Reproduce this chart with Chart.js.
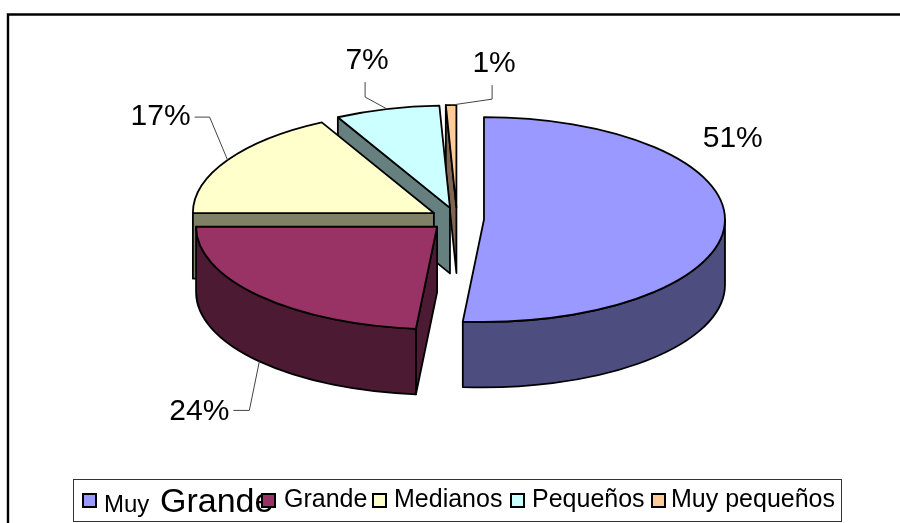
<!DOCTYPE html>
<html>
<head>
<meta charset="utf-8">
<style>
html, body { margin: 0; padding: 0; background: #fff; }
#wrap { width: 900px; height: 523px; overflow: hidden; }
</style>
<script src="https://cdn.jsdelivr.net/npm/chart.js@4/dist/chart.umd.min.js"></script>
</head>
<body>
<div id="wrap"><canvas id="pie" width="900" height="523"></canvas></div>
<script>
// data
const categories = ['Muy Grande', 'Grande', 'Medianos', 'Pequeños', 'Muy pequeños'];
const shares = [51.4, 23.6, 17.3, 7.0, 0.7];

const topColors = ['#9999FF', '#993366', '#FFFFCC', '#CCFFFF', '#FFCC99'];
const wallColors = ['#4D4D80', '#4D1A33', '#808066', '#668080', '#806650'];

// look of the fake 3D
const squash = 0.425;
const depth = 65.5;
const explode = 27;
const FONT = '"Liberation Sans", Arial, sans-serif';

// label + leader offsets from the rim point at each slice's middle angle
const labelOffsets = [[8, -85], [-60, 50], [-67, -43], [-20, -48], [43, -41]];
const leaders = [null, [[-10, 49], [-26, 49]], [[-18, -43], [-33, -43]], [[-22, -12], [-22, -27]], [[41, -6], [41, -20]]];

// legend row
const legendBox = { x: 73.5, y: 479.5, w: 768, h: 42 };
const legendMarks = [83, 262, 373, 511, 652];
const legendTexts = [
  [[104, 'Muy', 24, 512], [160, 'Grande', 34, 512]],
  [[284, 'Grande', 25, 507]],
  [[394, 'Medianos', 25, 507]],
  [[532, 'Pequeños', 25, 507]],
  [[671, 'Muy pequeños', 25, 507]]
];

function sliceGeom(el) {
  const mid = (el.startAngle + el.endAngle) / 2;
  return {
    mid,
    x: el.x + Math.cos(mid) * explode,
    y: el.y + Math.sin(mid) * explode * squash,
    r: el.outerRadius,
    ry: el.outerRadius * squash,
    a0: el.startAngle,
    a1: el.endAngle
  };
}

function drawFace(ctx, g, angle, color) {
  const ex = g.x + Math.cos(angle) * g.r;
  const ey = g.y + Math.sin(angle) * g.ry;
  ctx.beginPath();
  ctx.moveTo(g.x, g.y);
  ctx.lineTo(ex, ey);
  ctx.lineTo(ex, ey + depth);
  ctx.lineTo(g.x, g.y + depth);
  ctx.closePath();
  ctx.fillStyle = color;
  ctx.fill();
  ctx.stroke();
}

function drawRimWall(ctx, g, color) {
  // only the part of the rim facing the viewer (0 to PI in canvas angles)
  const from = Math.max(g.a0, 0);
  const to = Math.min(g.a1, Math.PI);
  if (to <= from) return;
  ctx.beginPath();
  ctx.ellipse(g.x, g.y, g.r, g.ry, 0, from, to);
  ctx.ellipse(g.x, g.y + depth, g.r, g.ry, 0, to, from, true);
  ctx.closePath();
  ctx.fillStyle = color;
  ctx.fill();
  ctx.stroke();
}

const pie3d = {
  id: 'pie3d',
  beforeDraw(chart) {
    const ctx = chart.ctx;
    ctx.save();
    ctx.fillStyle = '#fff';
    ctx.fillRect(0, 0, chart.width, chart.height);
    // outer frame, cut off by the picture at right and bottom
    ctx.strokeStyle = '#000';
    ctx.lineWidth = 2.4;
    ctx.beginPath();
    ctx.moveTo(8, 523);
    ctx.lineTo(8, 14.5);
    ctx.lineTo(900, 14.5);
    ctx.stroke();
    ctx.restore();
  },
  // the library would draw slices 0..n, here they must go back to front
  beforeDatasetDraw(chart, args) {
    const ctx = chart.ctx;
    const arcs = args.meta.data;
    ctx.save();
    ctx.lineJoin = 'round';
    ctx.lineWidth = 1.8;
    ctx.strokeStyle = '#000';
    for (let i = arcs.length - 1; i >= 0; i--) {
      const el = arcs[i];
      const g = sliceGeom(el);
      if (Math.cos(g.a0) < -1e-6) drawFace(ctx, g, g.a0, wallColors[i]);
      drawRimWall(ctx, g, wallColors[i]);

      ctx.save();
      ctx.translate(g.x, g.y);
      ctx.scale(1, squash);
      ctx.translate(-el.x, -el.y);
      el.draw(ctx);
      ctx.restore();

      ctx.beginPath();
      ctx.moveTo(g.x, g.y);
      ctx.ellipse(g.x, g.y, g.r, g.ry, 0, g.a0, g.a1);
      ctx.closePath();
      ctx.stroke();
    }
    ctx.restore();
    return false;
  },
  afterDraw(chart) {
    const ctx = chart.ctx;
    const arcs = chart.getDatasetMeta(0).data;
    ctx.save();

    // percent labels and leader lines
    arcs.forEach((el, i) => {
      const g = sliceGeom(el);
      const ax = g.x + Math.cos(g.mid) * g.r;
      let ay = g.y + Math.sin(g.mid) * g.ry;
      if (Math.sin(g.mid) > 0.3) ay += depth;
      if (leaders[i]) {
        ctx.strokeStyle = '#444';
        ctx.lineWidth = 1;
        ctx.beginPath();
        ctx.moveTo(ax, ay);
        leaders[i].forEach(p => ctx.lineTo(ax + p[0], ay + p[1]));
        ctx.stroke();
      }
      ctx.fillStyle = '#000';
      ctx.font = '30px ' + FONT;
      ctx.textAlign = 'center';
      ctx.textBaseline = 'middle';
      ctx.fillText(Math.round(shares[i]) + '%', ax + labelOffsets[i][0], ay + labelOffsets[i][1]);
    });

    // legend box
    ctx.strokeStyle = '#333';
    ctx.lineWidth = 1;
    ctx.strokeRect(legendBox.x, legendBox.y, legendBox.w, legendBox.h);
    ctx.textAlign = 'left';
    ctx.textBaseline = 'alphabetic';
    ctx.fillStyle = '#000';
    legendTexts.forEach(parts => parts.forEach(p => {
      ctx.font = p[2] + 'px ' + FONT;
      ctx.fillText(p[1], p[0], p[3]);
    }));
    legendMarks.forEach((x, i) => {
      ctx.fillStyle = topColors[i];
      ctx.strokeStyle = '#000';
      ctx.lineWidth = 2;
      ctx.fillRect(x, 494, 13, 13);
      ctx.strokeRect(x, 494, 13, 13);
    });
    ctx.restore();
  }
};

new Chart(document.getElementById('pie'), {
  type: 'pie',
  data: {
    labels: categories,
    datasets: [{ data: shares, backgroundColor: topColors, borderWidth: 0 }]
  },
  options: {
    responsive: false,
    animation: false,
    events: [],
    radius: 241,
    layout: { padding: { left: 14, right: 0, top: 0, bottom: 85 } },
    plugins: { legend: { display: false }, tooltip: { enabled: false } }
  },
  plugins: [pie3d]
});
</script>
</body>
</html>
